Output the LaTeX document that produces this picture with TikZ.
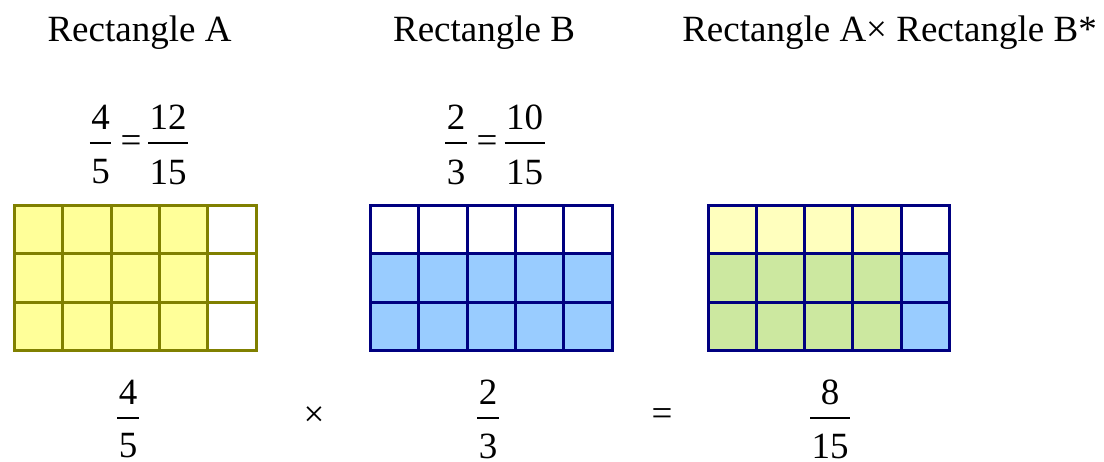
\documentclass[tikz,border=0pt]{standalone}
\usepackage{fontspec}
\setmainfont{Liberation Serif}
\usetikzlibrary{%
	calc,%
	positioning,%
}
\definecolor{cyellow}{RGB}{255, 255, 153}
\definecolor{colive}{RGB}{128, 128, 0}
\definecolor{cblue}{RGB}{153, 204, 255}
\definecolor{cnavy}{RGB}{0, 0, 128}
\definecolor{cyellowlight}{RGB}{255, 255, 190}
\definecolor{cgreenlight}{RGB}{204, 232, 160}
\tikzset{
	heading/.style={%
			anchor=base,%
			inner sep=0},%
	fracnode/.style={%
			anchor=north,%
			inner sep=0},%
	opnode/.style={%
			anchor=base,%
			inner sep=0},%
	gridA/.style={%
			draw=colive,%
			line width=3pt},%
	gridB/.style={%
			draw=cnavy,%
			line width=3pt},%
}
\newsavebox{\numbox}
\newsavebox{\denbox}
\newlength{\fracwd}
\newcommand{\fracbar}[3][16pt]{%
	\sbox{\numbox}{#2}\sbox{\denbox}{#3}%
	\setlength{\fracwd}{\wd\numbox}%
	\ifdim\wd\denbox>\fracwd\setlength{\fracwd}{\wd\denbox}\fi
	\addtolength{\fracwd}{3pt}%
	\vbox{\offinterlineskip
		\hbox to\fracwd{\hfil\usebox{\numbox}\hfil}\kern12pt
		\hrule height 2pt\kern#1
		\hbox to\fracwd{\hfil\usebox{\denbox}\hfil}}}
\newcommand{\cell}{48.3}

\begin{document}
\begin{tikzpicture}[x=1pt, y=-1pt, nodes={font={\fontsize{37}{44}\selectfont}}]%
	\useasboundingbox (0,0) rectangle (1104,461);

	\node[heading] (titleA) at (139.5,41) {Rectangle A};
	\node[heading] (titleB) at (484,41) {Rectangle B};
	\node[heading] (titleC) at (889.5,41) {Rectangle A× Rectangle B*};

	% equivalent fractions
	\node[fracnode] (fracA) at (100.5,105) {\fracbar{4}{5}};
	\node[opnode] (eqA) at (131,152) {=};
	\node[fracnode] (fracAx) at (168,105) {\fracbar{12}{15}};
	\node[fracnode] (fracB) at (456,105) {\fracbar{2}{3}};
	\node[opnode] (eqB) at (487,152) {=};
	\node[fracnode] (fracBx) at (524.5,105) {\fracbar{10}{15}};

	% rectangle A
	\begin{scope}[shift={(14.5,205.5)}]
		\fill[cyellow] (0,0) rectangle (4*\cell,3*\cell);
		\foreach \k in {1,...,4} \draw[gridA] (\k*\cell,0) -- (\k*\cell,3*\cell);
		\foreach \k in {1,2} \draw[gridA] (0,\k*\cell) -- (5*\cell,\k*\cell);
		\draw[gridA] (0,0) rectangle (5*\cell,3*\cell);
	\end{scope}

	% rectangle B
	\begin{scope}[shift={(370.5,205.5)}]
		\fill[cblue] (0,\cell) rectangle (5*\cell,3*\cell);
		\foreach \k in {1,...,4} \draw[gridB] (\k*\cell,0) -- (\k*\cell,3*\cell);
		\foreach \k in {1,2} \draw[gridB] (0,\k*\cell) -- (5*\cell,\k*\cell);
		\draw[gridB] (0,0) rectangle (5*\cell,3*\cell);
	\end{scope}

	% product
	\begin{scope}[shift={(708,205.5)}]
		\fill[cyellowlight] (0,0) rectangle (4*\cell,\cell);
		\fill[cgreenlight] (0,\cell) rectangle (4*\cell,3*\cell);
		\fill[cblue] (4*\cell,\cell) rectangle (5*\cell,3*\cell);
		\foreach \k in {1,...,4} \draw[gridB] (\k*\cell,0) -- (\k*\cell,3*\cell);
		\foreach \k in {1,2} \draw[gridB] (0,\k*\cell) -- (5*\cell,\k*\cell);
		\draw[gridB] (0,0) rectangle (5*\cell,3*\cell);
	\end{scope}

	\node[fracnode] (resA) at (128,380) {\fracbar[15pt]{4}{5}};
	\node[opnode] (times) at (314,426) {×};
	\node[fracnode] (resB) at (488,380) {\fracbar[15pt]{2}{3}};
	\node[opnode] (equals) at (662,425.5) {=};
	\node[fracnode] (resC) at (830,380) {\fracbar[15pt]{8}{15}};
\end{tikzpicture}
\end{document}
